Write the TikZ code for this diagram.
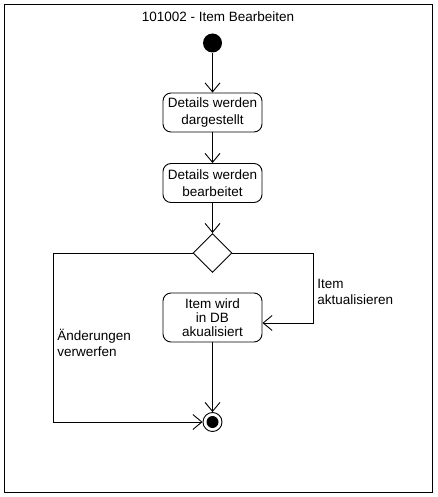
\documentclass[tikz,border=0pt]{standalone}
\usepackage{fontspec}
\setmainfont{Liberation Sans}
\usetikzlibrary{arrows.meta,shapes.geometric}

\begin{document}
\begin{tikzpicture}[x=1pt, y=-1pt, line width=0.9pt,
  every node/.style = {font=\fontsize{13.5}{16.5}\selectfont, inner sep=0pt},
  action/.style = {draw=black, rounded corners=8pt, minimum width=99pt, minimum height=39pt, align=center},
  decision/.style = {draw=black, shape=diamond, minimum width=39pt, minimum height=39pt},
  flow/.style = {-{Straight Barb[length=9pt,width=15pt]}},
  guard/.style = {align=left, anchor=west}]
	\useasboundingbox (0,0) rectangle (437,497);
	\draw (4,4) rectangle (432,492);
	\node (title) at (218,17) {101002 - Item Bearbeiten};
	% start / end
	\node (start) [circle, fill=black, minimum size=19pt] at (212.5,43) {};
	\node (stop) [circle, draw=black, minimum size=19pt] at (212.5,422) {};
	\node [circle, fill=black, minimum size=12pt] at (stop) {};
	% actions
	\node (shown) [action] at (212.5,112.5) {Details werden\\dargestellt};
	\node (edited) [action] at (212.5,183) {Details werden\\bearbeitet};
	\node (dec) [decision] at (212.5,253) {};
	\node (update) [action, minimum height=49pt, font=\fontsize{13.5}{14}\selectfont] at (212.5,317.5) {Item wird\\in DB\\akualisiert};
	\coordinate (cr) at (313,323);
	\coordinate (cl) at (53,422);
	% connectors
	\draw[flow] (start) -- (shown);
	\draw[flow] (shown) -- (edited);
	\draw[flow] (edited) -- (dec);
	\draw[flow] (dec.east) -| (cr) -- (update.east |- cr);
	\draw[flow] (update) -- (stop);
	\draw[flow] (dec.west) -| (cl) -- (stop);
	% guards
	\node (upd) [guard] at (317,292) {Item\\aktualisieren};
	\node (discard) [guard] at (57,343) {Änderungen\\verwerfen};
\end{tikzpicture}
\end{document}
